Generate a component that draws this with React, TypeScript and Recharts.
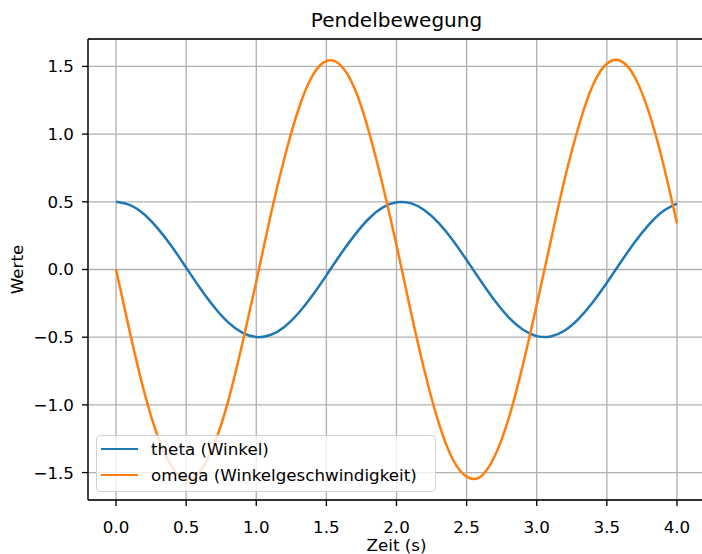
import React from 'react';
import { LineChart, Line, XAxis, YAxis, CartesianGrid, Legend, ReferenceLine } from 'recharts';

const time = [
  0.0, 0.1, 0.2, 0.3, 0.4, 0.5, 0.6, 0.7, 0.8, 0.9,
  1.0, 1.1, 1.2, 1.3, 1.4, 1.5, 1.6, 1.7, 1.8, 1.9,
  2.0, 2.1, 2.2, 2.3, 2.4, 2.5, 2.6, 2.7, 2.8, 2.9,
  3.0, 3.1, 3.2, 3.3, 3.4, 3.5, 3.6, 3.7, 3.8, 3.9, 4.0,
];
const theta = [
  0.5, 0.476, 0.408, 0.3, 0.166, 0.014, -0.138, -0.277, -0.391, -0.467,
  -0.499, -0.484, -0.424, -0.323, -0.192, -0.043, 0.111, 0.252, 0.373, 0.457,
  0.496, 0.49, 0.438, 0.344, 0.218, 0.07, -0.083, -0.229, -0.353, -0.443,
  -0.492, -0.495, -0.451, -0.363, -0.242, -0.098, 0.055, 0.203, 0.331, 0.43, 0.487,
];
const omega = [
  0.0, -0.47, -0.9, -1.24, -1.46, -1.55, -1.49, -1.29, -0.97, -0.55,
  -0.09, 0.39, 0.82, 1.18, 1.43, 1.54, 1.51, 1.34, 1.03, 0.63,
  0.18, -0.3, -0.75, -1.13, -1.4, -1.53, -1.53, -1.38, -1.1, -0.71,
  -0.26, 0.21, 0.67, 1.06, 1.36, 1.52, 1.54, 1.42, 1.16, 0.79, 0.34,
];
const xTicks = [0, 0.5, 1, 1.5, 2, 2.5, 3, 3.5, 4];
const yTicks = [-1.5, -1, -0.5, 0, 0.5, 1, 1.5];

const data = time.map((t, i) => ({ t, theta: theta[i], omega: omega[i] }));

const FONT = '"DejaVu Sans", sans-serif';
const Y_MAX = 1.7025;
const fmt = (v: number) => v.toFixed(1).replace('-', '\u2212');

const legendItems = [
  { name: 'theta (Winkel)', color: '#1f77b4' },
  { name: 'omega (Winkelgeschwindigkeit)', color: '#ff7f0e' },
];

function LegendBox() {
  return (
    <div
      style={{
        width: 334,
        height: 55,
        border: '1px solid #d0d0d0',
        borderRadius: 4,
        background: 'rgba(255,255,255,0.8)',
        fontFamily: FONT,
        fontSize: 16.7,
        color: '#000',
        paddingLeft: 4,
        boxSizing: 'content-box',
        textAlign: 'left',
      }}
    >
      {legendItems.map(item => (
        <div key={item.name} style={{ display: 'flex', alignItems: 'center', height: 26, whiteSpace: 'nowrap' }}>
          <div style={{ width: 37, height: 2.5, background: item.color, marginRight: 13 }} />
          <span>{item.name}</span>
        </div>
      ))}
    </div>
  );
}

export default function App() {
  return (
    <div style={{ position: 'absolute', left: 0, top: 0, width: 702, height: 554, overflow: 'hidden', background: '#fff' }}>
      <div
        style={{
          position: 'absolute',
          left: 88,
          width: 617,
          top: 10,
          textAlign: 'center',
          fontFamily: FONT,
          fontSize: 20,
          lineHeight: '20px',
          color: '#000',
        }}
      >
        Pendelbewegung
      </div>
      <LineChart
        width={720}
        height={554}
        data={data}
        margin={{ top: 39, right: 15, bottom: 0, left: 0 }}
        style={{ position: 'absolute', left: 0, top: 0 }}
      >
        <CartesianGrid stroke="#b0b0b0" strokeWidth={1.33} />
        <XAxis
          dataKey="t"
          type="number"
          domain={[-0.2, 4.2]}
          ticks={xTicks}
          tickFormatter={fmt}
          height={54}
          allowDataOverflow
          stroke="#000"
          strokeWidth={1.33}
          tickSize={6}
          tickMargin={15}
          tick={{ fill: '#000', fontFamily: FONT, fontSize: 16.7 }}
          label={{ value: 'Zeit (s)', position: 'insideBottom', offset: 3, fill: '#000', fontFamily: FONT, fontSize: 16.7 }}
        />
        <YAxis
          type="number"
          domain={[-Y_MAX, Y_MAX]}
          ticks={yTicks}
          tickFormatter={fmt}
          width={88}
          allowDataOverflow
          stroke="#000"
          strokeWidth={1.33}
          tickSize={6}
          tickMargin={8}
          tick={{ fill: '#000', fontFamily: FONT, fontSize: 16.7 }}
          label={{
            value: 'Werte',
            angle: -90,
            position: 'insideLeft',
            offset: 17,
            fill: '#000',
            fontFamily: FONT,
            fontSize: 16.7,
            style: { textAnchor: 'middle' },
          }}
        />
        <ReferenceLine y={Y_MAX} stroke="#000" strokeWidth={1.33} ifOverflow="visible" />
        <Line
          type="natural"
          dataKey="theta"
          name="theta (Winkel)"
          stroke="#1f77b4"
          strokeWidth={2.5}
          dot={false}
          isAnimationActive={false}
        />
        <Line
          type="natural"
          dataKey="omega"
          name="omega (Winkelgeschwindigkeit)"
          stroke="#ff7f0e"
          strokeWidth={2.5}
          dot={false}
          isAnimationActive={false}
        />
        <Legend
          layout="horizontal"
          verticalAlign="middle"
          align="center"
          content={() => <LegendBox />}
          wrapperStyle={{ position: 'absolute', left: 96, top: 435, width: 'auto', height: 'auto' }}
        />
      </LineChart>
    </div>
  );
}
